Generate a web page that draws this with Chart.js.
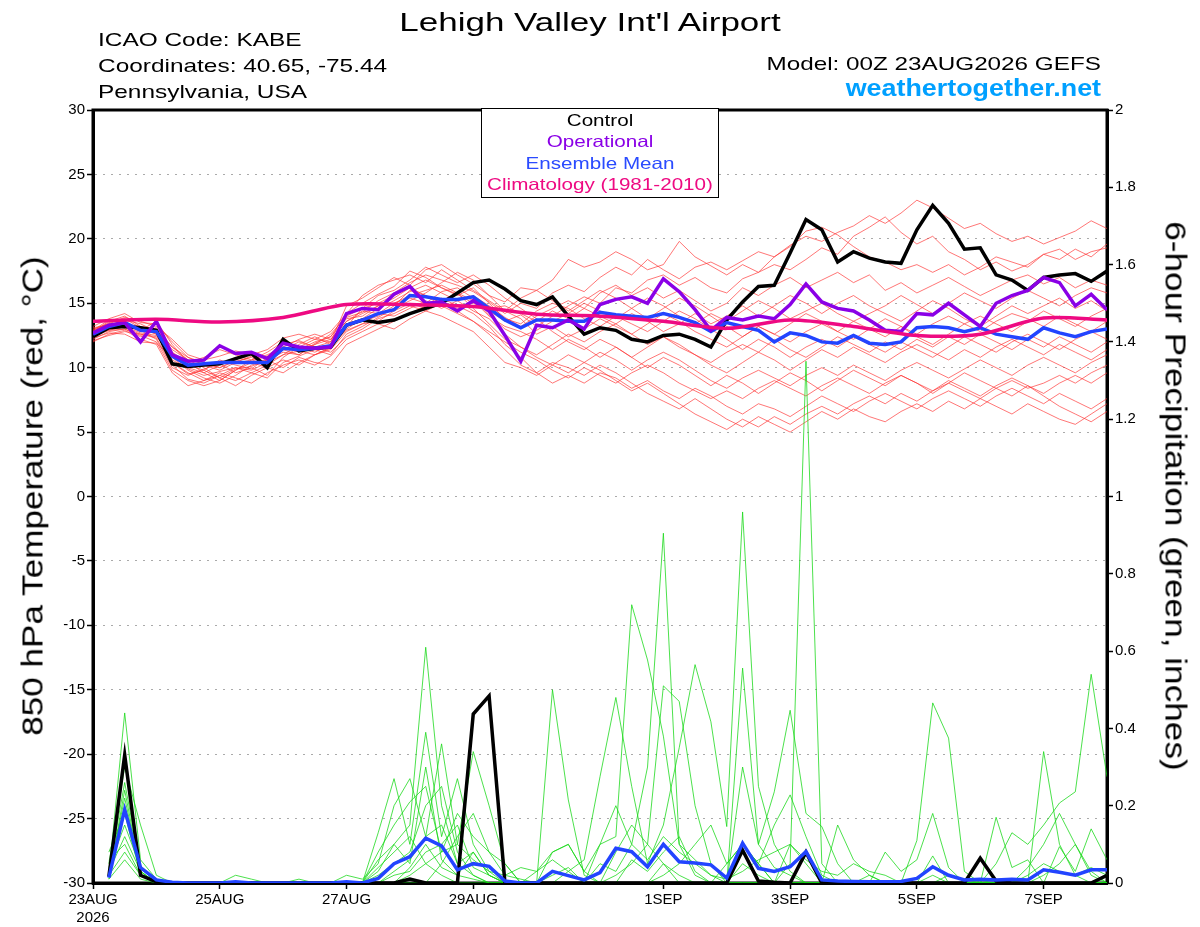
<!DOCTYPE html>
<html>
<head>
<meta charset="utf-8">
<script src="https://cdn.jsdelivr.net/npm/chart.js@4.4.1/dist/chart.umd.min.js"></script>
<style>
body { margin: 0; background: #fff; font-family: "Liberation Sans", Arial, sans-serif; }
#wrap { position: relative; width: 1200px; height: 927px; overflow: hidden; }
#chart { position: absolute; left: 0; top: 0; }
.txt { position: absolute; white-space: nowrap; color: #000; }
/* the reference lettering is wide, so text is stretched sideways */
#title { left: 590px; top: 9px; font-size: 26.5px; line-height: 1; transform: translateX(-50%) scaleX(1.32); }
#station { left: 98px; top: 27px; font-size: 19px; line-height: 26px; transform: scaleX(1.285); transform-origin: left top; }
#model { right: 99px; top: 51px; font-size: 19px; line-height: 26px; transform: scaleX(1.277); transform-origin: right top; }
#site { right: 99px; top: 74px; font-size: 24px; line-height: 28px; font-weight: bold; color: #00a0ff;
  transform: scaleX(1.12); transform-origin: right top; }
#legend { left: 481px; top: 108px; width: 238px; height: 90px; box-sizing: border-box; border: 1.5px solid #000;
  background: #fff; text-align: center; font-size: 16.5px; line-height: 21.3px; padding-top: 1px; z-index: 2; }
#legend div { transform: scaleX(1.25); }
.axt { font-size: 29px; line-height: 1; }
#ytitle { left: 32.5px; top: 496px; transform: translate(-50%, -50%) rotate(-90deg) scaleX(1.21); }
#y2title { left: 1175px; top: 496px; transform: translate(-50%, -50%) rotate(90deg) scaleX(1.213); }
</style>
</head>
<body>
<div id="wrap">
  <canvas id="chart" width="1200" height="927"></canvas>
  <div class="txt" id="title">Lehigh Valley Int'l Airport</div>
  <div class="txt" id="station">ICAO Code: KABE<br>Coordinates: 40.65, -75.44<br>Pennsylvania, USA</div>
  <div class="txt" id="model">Model: 00Z 23AUG2026 GEFS</div>
  <div class="txt" id="site">weathertogether.net</div>
  <div class="txt" id="legend">
    <div style="color:#000">Control</div>
    <div style="color:#8a00e6">Operational</div>
    <div style="color:#2a4bff">Ensemble Mean</div>
    <div style="color:#ee0a82">Climatology (1981-2010)</div>
  </div>
  <div class="txt axt" id="ytitle">850 hPa Temperature (red, °C)</div>
  <div class="txt axt" id="y2title">6-hour Precipitation (green, inches)</div>
</div>
<script>
// forecast hours from 00Z 23AUG2026, temps start at analysis, precip at +6h
const tempHours = [0,6,12,18,24,30,36,42,48,54,60,66,72,78,84,90,96,102,108,114,120,126,132,138,144,150,156,162,168,174,
  180,186,192,198,204,210,216,222,228,234,240,246,252,258,264,270,276,282,288,294,300,306,312,318,324,330,336,342,348,354,
  360,366,372,378,384]
const precipHours = tempHours.slice(1)

const tickHours = [0, 48, 96, 144, 216, 264, 312, 360]
const tickLabels = [["23AUG", "2026"], "25AUG", "27AUG", "29AUG", "1SEP", "3SEP", "5SEP", "7SEP"]

const climHours = [0,24,48,72,96,120,144,168,192,216,240,264,288,312,336,360,384]
const climTemp = [13.6,13.75,13.55,13.9,14.9,14.9,14.75,14.15,14.0,13.6,13.05,13.7,13.2,12.5,12.6,13.85,13.7]

const controlTemp = [
  12.4,13.1,13.2,13.1,12.9,10.3,10.1,10.2,10.3,10.7,
  11.1,10.0,12.2,11.3,11.5,11.6,13.3,13.7,13.5,13.7,
  14.2,14.6,15.0,15.8,16.6,16.8,16.1,15.2,14.9,15.5,
  14.0,12.6,13.1,12.9,12.2,12.0,12.5,12.6,12.2,11.6,
  13.7,15.1,16.3,16.4,18.9,21.5,20.7,18.2,19.0,18.5,
  18.2,18.1,20.7,22.6,21.2,19.2,19.3,17.2,16.8,16.0,
  17.0,17.2,17.3,16.7,17.5]
const operTemp = [
  12.7,13.3,13.5,12.0,13.6,11.0,10.5,10.6,11.7,11.1,
  11.2,10.7,11.9,11.6,11.5,11.6,14.2,14.6,14.5,15.7,
  16.3,15.0,15.1,14.4,15.2,14.4,12.5,10.5,13.3,13.1,
  13.7,13.0,14.9,15.3,15.5,15.0,16.9,15.9,14.5,12.9,
  13.9,13.7,14.0,13.8,14.9,16.5,15.1,14.6,14.4,13.7,
  12.9,12.8,14.2,14.1,15.0,14.1,13.2,15.0,15.6,16.0,
  17.0,16.6,14.8,15.7,14.5]
const meanTemp = [
  12.6,13.2,13.5,12.9,12.8,10.9,10.2,10.3,10.4,10.4,
  10.4,10.4,11.5,11.4,11.5,11.7,13.3,13.7,14.2,14.5,
  15.6,15.5,15.3,15.3,15.5,14.6,13.7,13.1,13.7,13.7,
  13.6,13.6,14.3,14.1,14.0,13.9,14.2,13.9,13.5,12.8,
  13.5,13.2,12.9,12.0,12.7,12.5,12.0,11.9,12.5,11.9,
  11.8,12.0,13.1,13.2,13.1,12.8,13.1,12.6,12.4,12.2,
  13.1,12.7,12.4,12.8,13.0]

// ensemble members, 850 hPa temperature
const tempMembers = [
  [12.8,13.6,14.0,13.2,13.0,11.2,10.0,9.6,10.2,10.8, 10.5,10.9,11.8,12.1,11.6,12.0,13.9,14.3,15.2,15.8,
   16.6,17.2,16.8,16.4,15.9,15.1,14.2,15.0,14.6,15.8, 16.4,15.9,17.0,17.8,17.2,18.4,17.6,16.9,17.8,18.2,
   17.6,18.3,19.0,18.6,19.5,20.2,19.8,20.5,21.0,21.8, 21.2,22.0,23.0,22.4,21.6,20.8,21.2,20.4,19.8,20.2,
   19.6,20.1,20.6,21.4,20.8],
  [12.4,13.1,13.5,13.0,12.6,10.4,9.5,9.8,9.2,9.9, 10.1,10.6,11.2,11.0,11.9,12.4,14.2,15.0,15.7,16.3,
   17.5,17.0,16.2,15.7,15.0,14.4,13.6,14.1,13.2,14.0, 14.8,15.5,15.0,16.2,15.8,16.8,17.2,16.4,17.0,16.2,
   15.8,16.9,17.4,18.0,17.6,18.4,19.3,18.8,20.2,20.9, 21.7,20.5,19.6,20.2,19.0,18.4,17.6,18.2,17.5,18.0,
   18.8,18.4,19.2,18.6,19.6],
  [13.0,13.4,13.9,13.6,13.2,12.2,11.0,10.6,10.9,11.3, 11.0,11.4,12.3,12.6,12.2,12.0,14.8,15.4,16.2,17.0,
   16.4,17.6,18.0,17.2,16.5,15.6,15.1,16.2,16.0,16.8, 18.4,17.8,18.2,19.0,18.4,17.6,18.0,19.8,18.6,17.9,
   17.2,18.0,17.4,18.6,19.4,20.6,20.9,20.3,19.4,18.6, 18.2,17.6,18.0,17.4,18.0,17.2,17.8,18.6,18.2,17.8,
   18.8,19.2,18.4,19.0,19.3],
  [12.6,12.9,13.2,12.7,12.5,10.6,9.9,9.4,9.7,10.0, 9.6,10.2,11.0,11.3,11.0,11.5,13.0,13.8,14.6,15.2,
   15.9,16.4,15.8,15.2,15.6,14.8,13.9,13.2,14.0,14.6, 15.2,14.6,15.8,16.4,15.6,16.2,15.4,16.0,15.2,14.4,
   15.0,16.2,15.6,16.4,17.0,16.2,16.8,17.4,16.6,17.2, 16.0,16.6,15.8,16.4,17.0,16.3,15.6,16.2,16.8,17.2,
   16.5,17.0,16.2,16.8,16.4],
  [12.2,12.8,13.0,12.4,12.9,11.6,10.8,10.4,10.0,10.6, 11.2,10.8,11.6,11.2,11.8,12.2,13.6,14.2,14.8,15.0,
   15.4,15.0,15.9,16.2,15.4,14.1,13.0,12.4,12.9,13.6, 14.2,15.0,14.4,13.8,14.6,15.4,14.8,14.0,13.4,14.2,
   13.6,14.4,15.2,14.6,13.8,14.4,15.0,14.2,13.6,14.2, 14.8,15.6,14.9,14.2,15.0,15.8,15.2,14.6,15.4,16.0,
   15.4,14.8,15.6,16.2,15.8],
  [12.9,13.4,13.1,12.6,12.3,10.2,9.1,8.8,9.4,9.0, 9.6,9.2,10.4,10.9,11.4,11.0,12.6,13.2,13.9,14.6,
   15.2,15.8,16.6,17.4,16.8,15.6,14.4,13.8,12.6,13.2, 12.4,13.0,13.8,13.2,12.6,13.4,14.2,13.6,12.8,12.2,
   11.6,12.4,13.2,12.6,12.0,12.8,13.4,12.8,13.6,13.0, 12.4,13.2,12.6,13.4,14.0,13.4,12.8,13.6,14.2,13.8,
   13.2,14.0,13.4,12.8,13.6],
  [12.5,13.0,13.3,12.9,12.2,10.0,9.4,9.9,10.3,9.6, 10.0,9.4,10.8,11.6,11.2,11.8,12.9,13.4,13.6,14.4,
   15.0,14.6,15.2,15.8,14.6,13.4,12.2,11.6,11.0,11.8, 12.6,12.0,12.8,13.4,12.6,11.8,12.4,11.6,11.0,10.4,
   11.2,11.8,11.2,12.2,11.4,10.8,11.6,12.4,11.8,11.2, 12.0,11.4,12.2,11.6,12.4,11.8,12.6,12.0,11.4,12.2,
   11.6,12.4,11.8,11.2,12.0],
  [13.2,13.8,14.2,13.5,13.4,12.0,10.8,10.2,9.8,10.4, 10.9,10.4,11.0,11.8,12.4,11.8,13.2,14.6,15.6,16.0,
   16.8,17.8,17.2,16.6,17.2,16.4,15.4,14.6,13.8,12.8, 12.0,11.4,12.2,11.6,10.8,11.6,12.4,11.8,11.0,10.2,
   9.6,10.4,11.2,10.6,9.8,10.6,11.4,10.8,11.6,11.0, 10.4,11.2,11.8,11.2,10.6,11.4,10.8,11.6,12.2,11.6,
   11.0,11.8,11.2,10.6,11.4],
  [12.0,12.6,12.9,12.2,11.8,9.6,8.6,9.0,9.6,9.2, 8.8,9.6,10.2,10.6,10.2,10.9,12.2,12.8,13.4,13.0,
   13.8,14.4,14.0,13.4,12.8,11.6,10.4,10.0,9.4,10.2, 11.0,10.4,11.2,10.6,9.8,10.6,11.2,10.6,9.8,9.0,
   8.4,9.2,9.8,9.2,8.6,9.4,10.0,9.4,10.2,9.6, 9.0,9.8,10.4,9.8,9.2,9.9,10.6,10.0,9.4,10.2,
   10.8,10.2,9.6,10.4,11.0],
  [12.7,13.2,13.7,13.4,12.8,11.4,10.6,10.0,9.2,8.6, 9.4,10.0,9.6,10.4,11.0,11.6,13.4,13.6,14.0,14.8,
   16.0,15.6,14.8,14.2,13.6,12.8,12.0,11.2,10.6,9.8, 9.2,10.0,9.4,8.8,9.6,10.2,9.6,8.8,8.2,7.6,
   8.2,7.6,8.4,9.0,8.4,7.8,8.6,9.2,8.6,8.0, 8.8,9.4,8.8,8.2,9.0,8.4,7.8,8.6,9.2,8.6,
   8.0,8.8,9.4,8.8,9.6],
  [12.3,12.7,12.6,12.0,11.9,10.8,9.8,9.2,8.8,9.4, 10.2,10.6,10.0,10.8,10.4,10.2,11.8,12.4,13.0,13.6,
   14.2,14.8,15.4,14.8,14.2,13.2,11.8,10.8,9.6,8.8, 9.4,8.8,9.6,9.2,8.4,9.0,8.2,7.6,8.4,7.8,
   7.0,6.4,7.2,6.8,6.2,7.0,7.8,7.2,6.6,7.4, 8.0,7.4,6.8,7.6,8.2,7.6,7.0,7.8,8.4,7.8,
   7.2,8.0,7.4,6.8,7.6],
  [12.8,13.5,13.8,13.1,12.6,10.4,9.6,9.0,9.4,10.0, 9.8,10.4,11.4,11.0,11.8,12.6,14.0,14.6,15.0,15.6,
   16.2,15.6,15.0,14.4,13.6,12.6,11.4,10.2,9.6,10.4, 10.0,9.4,10.2,9.6,8.8,8.0,7.4,6.8,7.6,6.8,
   6.0,5.4,6.2,5.6,5.0,5.8,6.6,6.0,6.8,6.2, 5.8,6.6,7.2,6.6,7.4,6.8,7.6,7.0,6.4,7.2,
   6.6,6.0,5.6,6.4,7.2],
  [12.4,12.9,13.0,12.5,12.0,9.8,9.0,8.6,9.0,9.8, 10.4,10.0,10.6,10.2,11.0,11.4,12.8,13.4,14.2,14.0,
   14.6,15.2,14.6,15.2,14.4,13.8,12.6,11.6,10.8,10.2, 9.6,10.4,9.8,9.0,8.2,8.8,8.0,7.2,6.4,5.8,
   5.2,6.0,5.4,6.2,5.6,6.4,7.0,6.4,7.2,7.8, 7.2,8.0,7.4,8.2,8.8,8.2,7.6,8.4,9.0,8.4,
   8.8,9.4,8.8,9.6,10.2],
  [13.1,13.3,13.6,12.9,13.6,11.8,10.4,10.8,11.4,11.0, 10.6,11.2,12.0,11.6,12.2,12.8,14.2,15.6,16.4,16.8,
   17.2,16.6,17.6,16.8,16.0,15.2,14.4,15.4,16.0,15.2, 14.4,15.2,16.0,15.4,14.6,13.8,14.6,15.4,14.8,14.0,
   13.2,12.4,13.2,12.6,13.4,14.2,13.6,12.8,12.2,13.0, 13.8,13.2,12.4,11.8,12.6,13.4,14.0,13.4,12.8,13.6,
   14.4,13.8,13.2,14.0,14.6],
  [12.1,12.5,12.8,12.6,12.4,11.0,10.2,9.8,10.6,10.2, 9.9,10.8,11.4,12.0,11.6,11.2,12.4,13.0,13.8,14.2,
   14.8,14.4,15.0,14.6,15.2,14.0,13.2,12.8,12.2,11.4, 12.2,11.6,10.8,11.6,10.8,10.0,10.8,10.2,9.4,8.6,
   9.4,8.8,8.0,8.8,9.6,9.0,8.2,9.0,9.8,9.2, 8.6,9.4,8.8,8.0,8.8,9.6,9.0,8.4,7.8,8.6,
   7.8,7.0,6.4,5.8,6.6],
  [12.6,13.0,13.4,13.2,12.7,11.2,10.4,9.6,9.0,9.8, 10.6,11.0,11.6,11.4,12.0,12.4,13.8,14.0,14.8,15.4,
   16.2,16.8,16.2,15.6,16.2,15.0,13.8,13.4,14.4,15.0, 14.6,13.8,13.2,14.0,13.4,12.8,13.6,14.4,13.8,13.0,
   12.2,11.4,12.2,11.6,10.8,11.6,12.2,11.6,12.4,11.8, 11.2,12.0,11.4,10.8,11.6,12.4,11.8,11.2,12.0,12.6,
   12.0,11.4,12.2,12.8,12.2],
  [12.9,13.7,13.3,12.8,13.1,11.6,10.6,10.3,10.0,10.5, 10.8,10.2,11.6,12.2,12.6,12.2,13.6,14.4,14.2,15.0,
   15.6,16.0,16.4,15.8,15.2,14.6,14.8,14.2,13.6,14.4, 13.8,14.6,14.0,13.4,14.2,13.6,12.8,13.4,14.2,13.4,
   14.0,14.8,14.0,14.8,15.6,15.0,14.2,15.0,15.6,14.8, 14.2,13.6,14.4,15.2,14.6,13.8,13.2,14.0,14.8,14.2,
   14.8,15.4,14.6,15.2,14.4]
]

// 6-hour precipitation (inches)
const controlPrecip = [
  0.016,0.331,0.02,0.003,0,0,0,0, 0,0,0,0,0,0,0,0,
  0,0,0,0.01,0,0,0,0.437, 0.484,0,0,0,0,0,0,0,
  0,0,0,0,0,0,0,0, 0.085,0.005,0.002,0,0.08,0,0,0,
  0,0,0,0,0,0,0,0.064, 0.005,0,0,0,0,0,0,0.02]
const meanPrecip = [
  0.014,0.19,0.04,0.008,0.002,0,0,0, 0.003,0,0,0,0,0,0,0.003,
  0,0.012,0.05,0.068,0.116,0.096,0.034,0.05, 0.043,0.005,0,0,0.03,0.019,0.008,0.027,
  0.09,0.081,0.042,0.1,0.055,0.052,0.047,0.013, 0.103,0.038,0.03,0.042,0.081,0.008,0.005,0.004,
  0.003,0.003,0.004,0.012,0.042,0.02,0.008,0.01, 0.008,0.01,0.008,0.034,0.028,0.02,0.034,0.034]

const precipMembers = [
  [0.02,0.44,0.06,0.01,0,0,0,0, 0,0,0,0,0,0,0,0, 0,0.03,0.1,0.15,0.61,0.2,0.05,0.02, 0,0,0,0,0.02,0.04,0,0.1,
   0.2,0.1,0.3,0.905,0.1,0.02,0,0, 0.1,0.05,0,0.05,1.35,0.05,0,0, 0,0,0,0,0.02,0,0,0, 0,0,0.04,0.1,0.18,0.1,0.02,0],
  [0.05,0.30,0.15,0.02,0,0,0,0, 0.02,0.01,0,0,0,0,0,0, 0,0.13,0.27,0.1,0.39,0.12,0.27,0.1, 0.03,0,0,0,0.5,0.215,0.02,0,
   0.02,0.05,0.1,0.51,0.47,0.2,0.05,0, 0.3,0.1,0.04,0.02,0,0,0.15,0.06, 0.02,0,0,0,0,0,0,0, 0,0,0,0.34,0.1,0.02,0,0],
  [0.03,0.26,0.04,0,0,0,0,0, 0,0,0,0,0,0,0,0.02, 0.01,0.05,0.2,0.27,0.12,0.36,0.1,0.34, 0.2,0.05,0,0,0,0.03,0.06,0.275,
   0.48,0.25,0.05,0.15,0.35,0.565,0.417,0.146, 0.96,0.25,0.1,0.03,0,0,0,0, 0,0,0,0.11,0.466,0.375,0.03,0, 0,0,0,0,0,0,0,0],
  [0.01,0.24,0.03,0,0,0,0,0, 0,0,0,0,0,0,0,0, 0,0.08,0.15,0.21,0.25,0.08,0.18,0.12, 0.08,0.02,0.04,0.03,0.08,0.1,0.03,0.1,
   0.12,0.72,0.577,0.38,0.1,0.06,0.02,0, 0.556,0.1,0.236,0.447,0.18,0.146,0.05,0, 0,0.08,0.03,0.06,0.18,0.04,0,0,
   0.05,0.13,0.1,0.15,0.207,0.236,0.54,0.275],
  [0.02,0.22,0.03,0,0,0,0,0, 0,0,0,0,0,0,0,0, 0,0.02,0.05,0.08,0.2,0.25,0.08,0.02, 0,0,0,0,0,0,0,0,
   0,0,0,0.02,0.05,0.1,0.15,0.05, 0.1,0.05,0.15,0.228,0.12,0.02,0,0, 0,0,0,0,0.07,0,0,0, 0.17,0.04,0.06,0,0.094,0.03,0.14,0.06],
  [0.08,0.18,0.02,0,0,0,0,0, 0,0,0,0,0,0,0,0, 0,0,0.03,0.06,0.12,0.15,0.05,0.08, 0.02,0,0,0,0,0,0,0,
   0,0,0,0.05,0,0,0,0, 0,0,0,0,0,0,0,0, 0,0,0,0,0,0,0,0, 0,0,0,0,0,0,0,0],
  [0.04,0.15,0.04,0.01,0,0,0,0, 0,0,0,0,0.01,0,0,0, 0,0.06,0.1,0.05,0.3,0.06,0.02,0.01, 0,0,0,0,0,0,0,0,
   0,0,0,0,0,0,0,0, 0,0,0,0,0,0,0,0, 0.02,0,0,0,0,0,0,0, 0,0,0,0,0,0,0,0],
  [0.03,0.12,0.03,0,0,0,0,0, 0,0,0,0,0,0,0,0, 0,0,0,0.04,0.1,0.04,0.02,0.08, 0.02,0,0,0,0,0,0,0,
   0,0,0,0,0,0,0,0.05, 0.1,0.05,0,0.1,0.05,0,0,0, 0,0,0,0,0,0,0,0, 0,0,0,0,0,0,0,0],
  [0.06,0.10,0.02,0,0,0,0,0, 0,0,0,0,0,0,0,0, 0,0.04,0.08,0.12,0.05,0.02,0,0, 0,0,0,0,0,0,0,0,
   0,0,0,0,0,0,0,0, 0,0,0,0,0,0,0,0, 0,0,0,0,0,0,0,0, 0,0,0,0.02,0.05,0.1,0.03,0],
  [0.02,0.08,0.02,0,0,0,0,0, 0,0,0,0,0,0,0,0, 0,0,0.02,0.03,0.08,0.1,0.15,0.04, 0.02,0,0,0.03,0.06,0.03,0,0.05,
   0.03,0.1,0.06,0.12,0.08,0.05,0.02,0.01, 0.03,0.06,0.08,0.1,0.06,0.03,0.02,0.05, 0.03,0.02,0,0,0,0.02,0.01,0,
   0.01,0,0.02,0.05,0.03,0.02,0.04,0.02],
  [0.01,0.06,0.01,0,0,0,0,0, 0,0,0,0,0,0,0,0, 0,0,0,0.02,0.05,0.08,0.1,0.06, 0.03,0.02,0.01,0,0,0,0,0,
   0.08,0.15,0.1,0.05,0.02,0,0,0, 0.05,0.02,0,0,0,0,0,0, 0,0,0,0,0,0,0,0, 0,0,0,0,0,0,0,0],
  [0.03,0.2,0.04,0,0,0,0,0, 0,0,0,0,0,0,0,0, 0,0,0,0,0,0.05,0.12,0.18, 0.08,0.05,0,0,0.08,0.1,0.03,0,
   0,0.06,0.03,0.08,0.12,0.03,0,0, 0,0,0,0,0,0,0,0, 0,0,0,0,0,0,0,0, 0,0,0,0,0,0,0,0]
]

Chart.defaults.font.family = '"Liberation Sans", Arial, sans-serif'
Chart.defaults.color = '#000'

function toPoints(hours, values){
    return values.map((v, i) => ({x: hours[i], y: v}))
}

function line(label, hours, values, color, width, axis, order){
    return {
        label: label,
        data: toPoints(hours, values),
        borderColor: color,
        borderWidth: width,
        yAxisID: axis,
        order: order,
        pointRadius: 0,
        tension: 0
    }
}

const datasets = []
tempMembers.forEach((m, i) => datasets.push(line('T member ' + (i + 1), tempHours, m, 'rgba(255,50,50,0.75)', 0.9, 'y', 20)))
precipMembers.forEach((m, i) => datasets.push(line('P member ' + (i + 1), precipHours, m, 'rgba(20,215,20,0.85)', 0.9, 'y2', 15)))
datasets.push(line('Control precip', precipHours, controlPrecip, '#000', 3.5, 'y2', 9))
datasets.push(line('Mean precip', precipHours, meanPrecip, '#2244ff', 3.5, 'y2', 8))
datasets.push(line('Control', tempHours, controlTemp, '#000', 3.5, 'y', 6))
datasets.push(line('Ensemble Mean', tempHours, meanTemp, '#2244ff', 3.5, 'y', 5))
datasets.push(line('Operational', tempHours, operTemp, '#8a00e6', 3.5, 'y', 4))
const clim = line('Climatology', climHours, climTemp, '#ee0a82', 3.5, 'y', 3)
clim.tension = 0.3
datasets.push(clim)

// black frame round the plot area
const frame = {
    id: 'frame',
    beforeDatasetsDraw(chart){
        const {ctx, chartArea: a} = chart
        ctx.save()
        ctx.lineWidth = 3
        ctx.strokeStyle = '#000'
        ctx.strokeRect(a.left, a.top, a.right - a.left, a.bottom - a.top)
        ctx.restore()
    }
}

new Chart(document.getElementById('chart'), {
    type: 'line',
    data: { datasets: datasets },
    options: {
        responsive: false,
        animation: false,
        layout: { padding: { top: 110, left: 0, right: 0, bottom: 0 } },
        plugins: { legend: { display: false }, tooltip: { enabled: false } },
        scales: {
            x: {
                type: 'linear', min: 0, max: 384,
                afterFit: s => { s.height = 44 },
                afterBuildTicks: s => { s.ticks = tickHours.map(v => ({value: v})) },
                ticks: {
                    callback: v => tickLabels[tickHours.indexOf(v)],
                    autoSkip: false, maxRotation: 0, font: { size: 15 }, padding: 2
                },
                grid: { drawOnChartArea: false, tickLength: 6, tickColor: '#000', tickWidth: 1.5 },
                border: { color: '#000', width: 3 }
            },
            y: {
                position: 'left', min: -30, max: 30,
                afterFit: s => { s.width = 93 },
                ticks: { stepSize: 5, font: { size: 15 }, padding: 2 },
                grid: { color: '#aaaaaa', lineWidth: 1, tickLength: 6, tickColor: '#000', tickWidth: 1.5 },
                border: { color: '#000', width: 3, dash: [2, 6] }
            },
            y2: {
                position: 'right', min: 0, max: 2,
                afterFit: s => { s.width = 93 },
                ticks: { stepSize: 0.2, font: { size: 15 }, padding: 2, callback: v => String(Math.round(v * 10) / 10) },
                grid: { drawOnChartArea: false, tickLength: 6, tickColor: '#000', tickWidth: 1.5 },
                border: { color: '#000', width: 3 }
            }
        }
    },
    plugins: [frame]
})
</script>
</body>
</html>
